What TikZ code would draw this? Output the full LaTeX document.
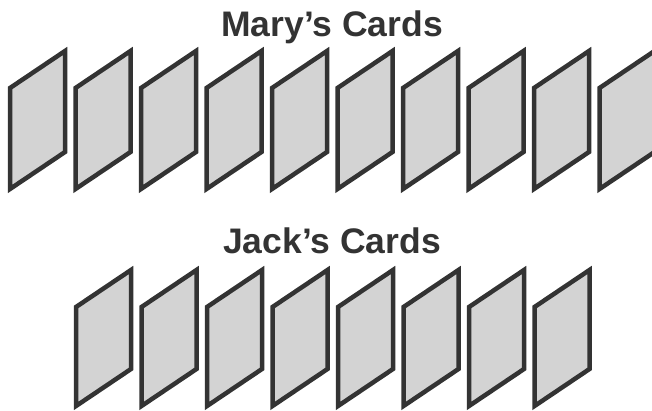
\documentclass[tikz,border=0pt]{standalone}
\usepackage{fontspec}
\setmainfont{Liberation Sans}
\usetikzlibrary{positioning}
\definecolor{cardfill}{HTML}{D3D3D3}
\definecolor{cardedge}{HTML}{333333}
\tikzset{
  card/.style  ={draw=cardedge, fill=cardfill, line width=4.5pt, line join=miter},
  title/.style ={font=\fontsize{35.5}{38}\selectfont\bfseries, text=cardedge,
                 inner sep=0pt, anchor=base},
}

\begin{document}
\begin{tikzpicture}[x=1pt, y=-1pt]
  \useasboundingbox (0,0) rectangle (652,410);
  \clip (0,0) rectangle (652,410);
  \node[title] (mary) at (332,36) {Mary’s Cards};
  \foreach \i in {0,...,9}
    \draw[card] ({10+65.5*\i},88) coordinate (m\i) -- ++(0,101) -- ++(55,-37) -- ++(0,-101) -- cycle;
  \node[title] (jack) at (332,253) {Jack’s Cards};
  \foreach \i in {0,...,7}
    \draw[card] ({76+65.5*\i},307) coordinate (j\i) -- ++(0,99) -- ++(55,-37) -- ++(0,-99) -- cycle;
\end{tikzpicture}
\end{document}
